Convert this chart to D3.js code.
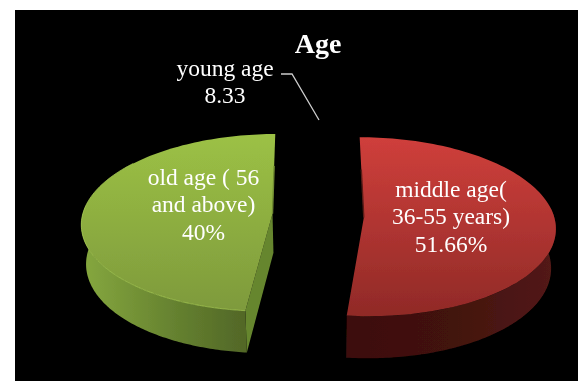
<!DOCTYPE html>
<html><head><meta charset="utf-8">
<script src="https://cdn.jsdelivr.net/npm/d3@7"></script>
<style>html,body{margin:0;padding:0;background:#fff}svg{display:block}text{font-family:"Liberation Serif",serif;fill:#fff}</style>
</head><body><svg id="c" width="578" height="381"></svg>
<script>
const categories = ["middle age", "old age", "young age"];
// swept shares as they appear in the picture (young age slice is not visible)
const sliceValues = [51.66, 48.2, 0.14];
const labelLines = [["middle age(", "36-55 years)", "51.66%"], ["old age ( 56", "and above)", "40%"], ["young age", "8.33"]];
const topColors = [["#cf3f3b", "#902a27"], ["#9cc145", "#7e9a3c"]];
const sideColors = [["#3d0f0c", "#42120e", "#531a17"], ["#86a83f", "#64802f", "#4a5c24"]];
const edgeColors = ["#5a1c19", "#6f8a30"];
const titleText = "Age";

const svg = d3.select("#c");
svg.append("rect").attr("x",15).attr("y",10).attr("width",563).attr("height",371).attr("fill","#000");
const defs = svg.append("defs");
defs.append("filter").attr("id","soft").append("feGaussianBlur").attr("stdDeviation",0.4);

const cx = 319, cy = 215, Rx = 190, Ry = 88, persp = 0.101, depth = 42, shrink = 0.98;
const explode = [[0.235, 0.03], [-0.245, -0.015]];
const arcs = d3.pie().sort(null).value(d => d)(sliceValues);

function project(u, v, low) {
  const w = 1 - persp * v;
  let X = cx + Rx * u / w, Y = cy + Ry * v / w;
  if (low) { X = cx + (X - cx) * shrink; Y += depth * (0.93 + 0.07 * v); }
  return [X, Y];
}
function rim(e, low, from, to) {
  return d3.range(0, 121).map(i => {
    const t = from + (to - from) * i / 120;
    return project(e[0] + Math.sin(t), e[1] - Math.cos(t), low);
  });
}
const line = d3.line();

function gradient(id, horizontal, c, box) {
  const g = defs.append("linearGradient").attr("id", id).attr("gradientUnits", "userSpaceOnUse")
    .attr("x1", box[0]).attr("y1", box[1]).attr("x2", horizontal ? box[2] : box[0]).attr("y2", horizontal ? box[1] : box[3]);
  c.forEach((col, i) => g.append("stop").attr("offset", i / (c.length - 1)).attr("stop-color", col));
}

const shapes = svg.append("g").attr("filter", "url(#soft)");
[0, 1].forEach(i => {
  const a = arcs[i], e = explode[i];
  const top = rim(e, false, a.startAngle, a.endAngle);
  // only the front-facing part of the outer wall is drawn
  const wallFrom = i === 0 ? Math.PI / 2 - 0.1 : a.startAngle;
  const wallTo = i === 0 ? a.endAngle : 1.5 * Math.PI + 0.1;
  const wallTop = rim(e, false, wallFrom, wallTo);
  const wallLow = rim(e, true, wallFrom, wallTo);
  const apex = project(e[0], e[1], false), apexLow = project(e[0], e[1], true);
  const xs = top.map(p => p[0]), ys = top.map(p => p[1]);
  const box = [d3.min(xs), d3.min(ys), d3.max(xs), d3.max(ys)];
  gradient("top" + i, false, topColors[i], box);
  gradient("side" + i, true, sideColors[i], box);
  if (i === 1) {
    shapes.append("path").attr("fill", "#66862f")
      .attr("d", line([apex, wallTop[0], wallLow[0], apexLow]) + "Z");
  }
  shapes.append("path").attr("fill", `url(#side${i})`)
    .attr("d", line(wallTop.concat(wallLow.slice().reverse())) + "Z");
  shapes.append("path").attr("fill", `url(#top${i})`)
    .attr("d", line([apex].concat(top)) + "Z");
  // darker bevel along the cut edge facing the gap
  const cutEnd = i === 0 ? top[0] : top[120];
  const mid = d3.interpolateArray(apex, cutEnd)(0.6);
  shapes.append("path").attr("fill", "none").attr("stroke", edgeColors[i]).attr("stroke-width", 1.4)
    .attr("d", line([mid, apex]));
  if (i === 1) {
    shapes.append("path").attr("fill", "none").attr("stroke", "#a9cf55").attr("stroke-width", 1).attr("opacity", .7)
      .attr("d", line(top.slice(0, 85)));
  }
});

const texts = svg.append("g").attr("filter", "url(#soft)");
texts.append("text").attr("x", 318).attr("y", 53).attr("text-anchor", "middle")
  .attr("font-size", 28).attr("font-weight", "bold").text(titleText);

const labelPos = [[451, 197], [203.5, 185], [225, 76]];
labelLines.forEach((ls, i) => {
  const t = texts.append("text").attr("text-anchor", "middle").attr("font-size", 23.5);
  ls.forEach((l, j) => t.append("tspan").attr("x", labelPos[i][0]).attr("y", labelPos[i][1] + j * 27.3).text(l));
});

svg.append("path").attr("fill", "none").attr("stroke", "#cccccc").attr("stroke-width", 1.3)
  .attr("d", d3.line()([[281, 74], [292, 74], [319, 120]]));
</script></body></html>
